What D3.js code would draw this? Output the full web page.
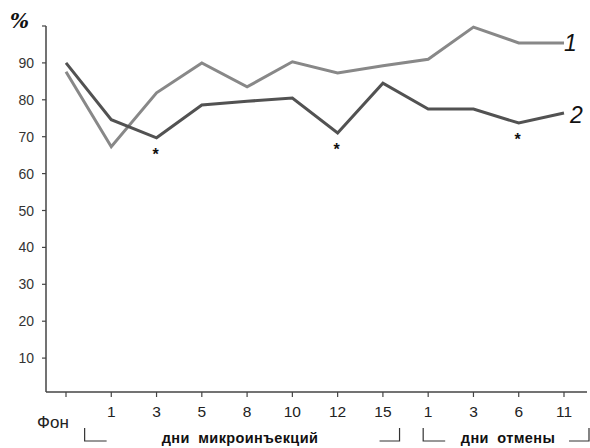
<!DOCTYPE html>
<html>
<head>
<meta charset="utf-8">
<script src="https://cdn.jsdelivr.net/npm/d3@7"></script>
<style>
  body { margin: 0; background: #fff; }
  svg { display: block; font-family: Arial, "Liberation Sans", sans-serif; }
</style>
</head>
<body>
<div id="chart"></div>
<script>
// categories along the x axis (days)
const days = ['Фон', '1', '3', '5', '8', '10', '12', '15', '1', '3', '6', '11'];
// series 1 (light) and series 2 (dark), %
const series1 = [87.6, 67.3, 81.9, 90, 83.5, 90.3, 87.3, 89.2, 91, 99.7, 95.4, 95.4];
const series2 = [90, 74.6, 69.7, 78.6, 79.6, 80.5, 71, 84.5, 77.5, 77.5, 73.7, 76.4];
// indices of points marked with an asterisk (series 2)
const starred = [2, 6, 10];
const yTicks = [10, 20, 30, 40, 50, 60, 70, 80, 90];
// groups under the axis
const groups = [
  { label: 'дни микроинъекций', from: 1, to: 7 },
  { label: 'дни отмены', from: 8, to: 11 }
];

const width = 590;
const height = 448;
const axisX = 46;
const axisY = 392;

const svg = d3.select('#chart').append('svg')
  .attr('width', width)
  .attr('height', height);

const x = d3.scalePoint()
  .domain(d3.range(days.length))
  .range([66, 564]);

const y = d3.scaleLinear()
  .domain([0, 100])
  .range([395, 26]);

// y axis
svg.append('line')
  .attr('x1', axisX).attr('x2', axisX)
  .attr('y1', y(100)).attr('y2', axisY)
  .attr('stroke', '#444').attr('stroke-width', 1.5);

svg.selectAll('.ytick')
  .data(yTicks.concat([100]))
  .enter()
  .append('line')
  .attr('class', 'ytick')
  .attr('x1', axisX - 4).attr('x2', axisX)
  .attr('y1', d => y(d)).attr('y2', d => y(d))
  .attr('stroke', '#444').attr('stroke-width', 1.2);

svg.selectAll('.ylabel')
  .data(yTicks)
  .enter()
  .append('text')
  .attr('class', 'ylabel')
  .attr('x', 34)
  .attr('y', d => y(d) + 5)
  .attr('text-anchor', 'end')
  .attr('font-size', 14)
  .attr('fill', '#333')
  .text(d => d);

svg.append('text')
  .attr('x', 10).attr('y', 28)
  .attr('font-family', '"DejaVu Serif", serif')
  .attr('font-weight', 'bold')
  .attr('font-style', 'italic')
  .attr('font-size', 20)
  .attr('fill', '#111')
  .text('%');

// x axis
svg.append('line')
  .attr('x1', axisX).attr('x2', 587)
  .attr('y1', axisY).attr('y2', axisY)
  .attr('stroke', '#444').attr('stroke-width', 1.5);

svg.selectAll('.xtick')
  .data(d3.range(days.length))
  .enter()
  .append('line')
  .attr('class', 'xtick')
  .attr('x1', d => x(d)).attr('x2', d => x(d))
  .attr('y1', axisY).attr('y2', axisY + 5)
  .attr('stroke', '#444').attr('stroke-width', 1.2);

svg.selectAll('.xlabel')
  .data(days)
  .enter()
  .append('text')
  .attr('class', 'xlabel')
  .attr('x', (d, i) => i === 0 ? x(i) - 13 : x(i))
  .attr('y', (d, i) => i === 0 ? 428 : 417)
  .attr('text-anchor', 'middle')
  .attr('font-size', (d, i) => i === 0 ? 17 : 15.5)
  .attr('fill', '#222')
  .text(d => d);

// group brackets
const bracket = svg.append('g')
  .attr('stroke', '#333').attr('stroke-width', 1.2).attr('fill', 'none');

groups.forEach((g, gi) => {
  const last = g.to === days.length - 1;
  const x0 = gi === 0 ? (x(g.from - 1) + x(g.from)) / 2 - 4 : x(g.from) - 5;
  const x1 = last ? 589 : (x(g.to) + x(g.to + 1)) / 2 - 6;
  bracket.append('path')
    .attr('d', `M${x0},428V441H${x0 + 22}`);
  bracket.append('path')
    .attr('d', `M${x1 - 20},441H${x1}V428`);
  svg.append('text')
    .attr('x', last ? 508 : 240)
    .attr('y', 443)
    .attr('text-anchor', 'middle')
    .attr('font-size', 14.5)
    .attr('font-weight', 'bold')
    .attr('fill', '#111')
    .attr('letter-spacing', 0.4)
    .attr('word-spacing', 4)
    .text(g.label);
});

// lines
const line = d3.line()
  .x((d, i) => x(i))
  .y(d => y(d));

svg.append('path')
  .datum(series1)
  .attr('d', line)
  .attr('fill', 'none')
  .attr('stroke', '#888')
  .attr('stroke-width', 3);

svg.append('path')
  .datum(series2)
  .attr('d', line)
  .attr('fill', 'none')
  .attr('stroke', '#525252')
  .attr('stroke-width', 3);

// asterisks
svg.selectAll('.star')
  .data(starred)
  .enter()
  .append('text')
  .attr('class', 'star')
  .attr('x', d => x(d) - 1)
  .attr('y', d => y(series2[d]) + 22)
  .attr('text-anchor', 'middle')
  .attr('font-size', 16)
  .attr('font-weight', 'bold')
  .attr('fill', '#111')
  .text('*');

// series labels
svg.append('text')
  .attr('x', 564).attr('y', y(series1[series1.length - 1]) + 8)
  .attr('font-size', 23)
  .attr('font-style', 'italic')
  .attr('fill', '#111')
  .text('1');

svg.append('text')
  .attr('x', 570).attr('y', y(series2[series2.length - 1]) + 10)
  .attr('font-size', 23)
  .attr('font-style', 'italic')
  .attr('fill', '#111')
  .text('2');
</script>
</body>
</html>
